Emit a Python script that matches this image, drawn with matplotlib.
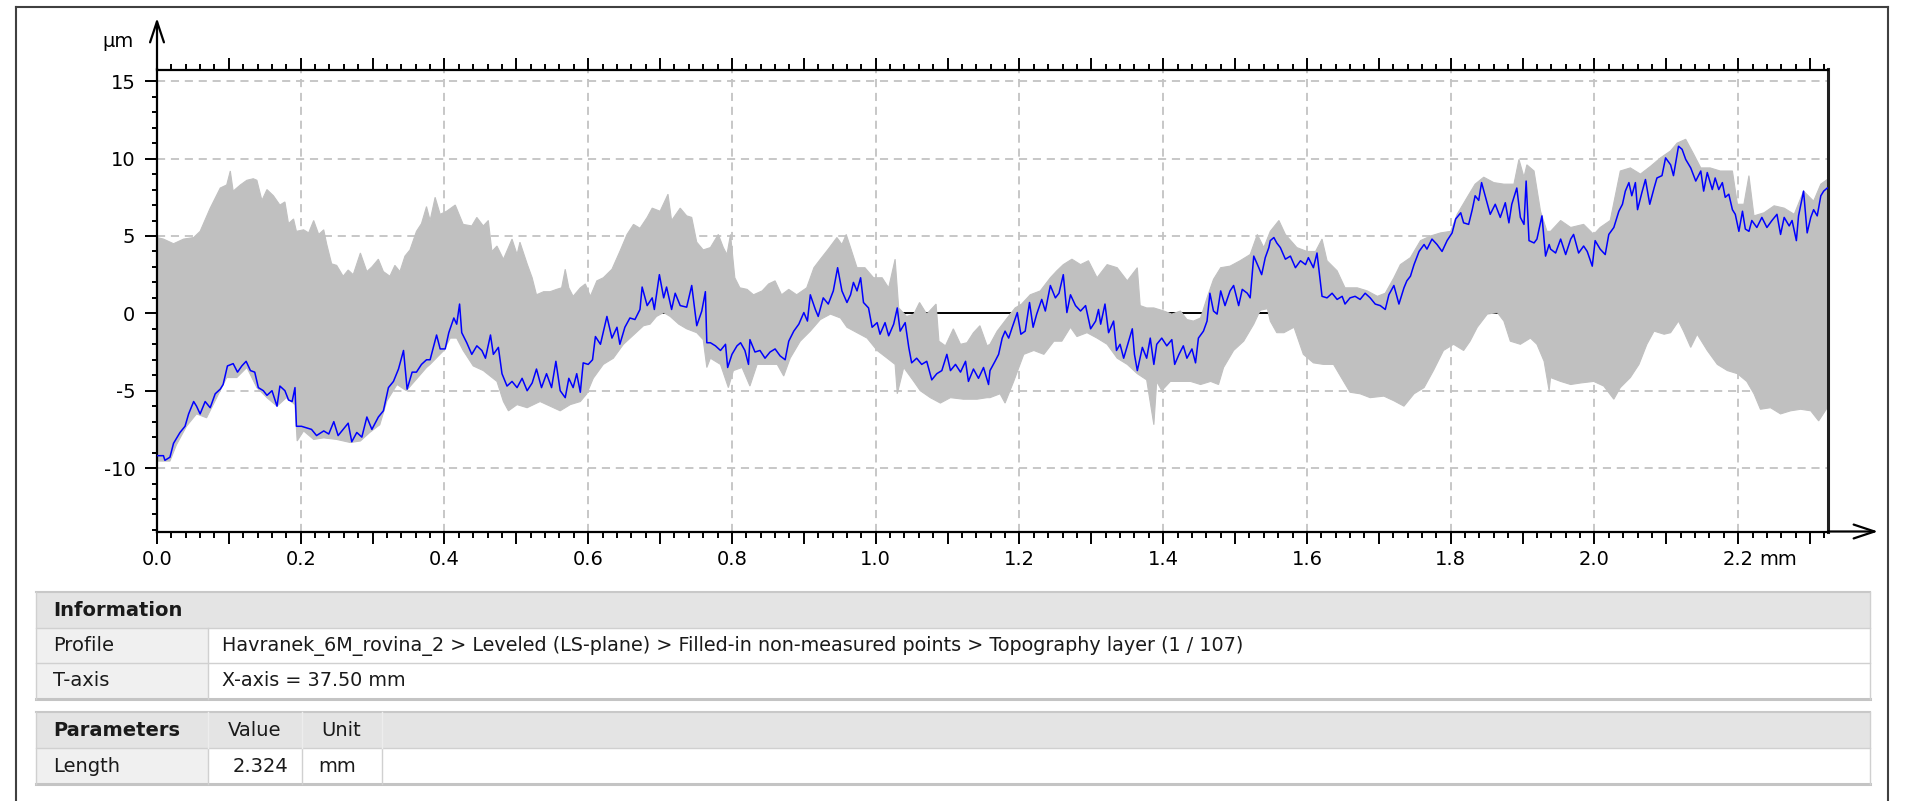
import numpy as np
import matplotlib
matplotlib.use("Agg")
import matplotlib.pyplot as plt
from matplotlib.patches import Rectangle
from matplotlib.lines import Line2D
from matplotlib.ticker import FixedLocator, FixedFormatter, MultipleLocator

# ---------------- data (x in mm, z in µm) ----------------
# highlighted profile (1 / 107) as (x, z)
blue_a = [(0.000, -9.2), (0.009, -9.2), (0.011, -9.5), (0.018, -9.3), (0.023, -8.4), (0.032, -7.7),
          (0.039, -7.3), (0.044, -6.5), (0.051, -5.7), (0.055, -6.0), (0.060, -6.5), (0.067, -5.7),
          (0.074, -6.1), (0.081, -5.2), (0.088, -4.9), (0.092, -4.6), (0.098, -3.4), (0.106, -3.25),
          (0.112, -3.8), (0.118, -3.4), (0.124, -3.1), (0.130, -3.7), (0.136, -3.8), (0.141, -4.8),
          (0.148, -5.0), (0.153, -5.3), (0.160, -5.0), (0.167, -6.0), (0.171, -4.7), (0.178, -5.0),
          (0.183, -5.6), (0.188, -5.7), (0.192, -4.8), (0.194, -7.3), (0.201, -7.3), (0.208, -7.4),
          (0.215, -7.5), (0.222, -7.9), (0.232, -7.6), (0.239, -7.8), (0.246, -7.0), (0.252, -7.9),
          (0.259, -7.5), (0.266, -7.1), (0.271, -8.3), (0.278, -7.7), (0.285, -8.0), (0.292, -6.7),
          (0.299, -7.5), (0.308, -6.7), (0.315, -6.3), (0.322, -4.8), (0.329, -4.4), (0.336, -3.6),
          (0.343, -2.4), (0.348, -4.9), (0.355, -3.8), (0.361, -3.8), (0.368, -3.3), (0.375, -3.0)]
blue_b = [(0.380, -3.0), (0.389, -1.4), (0.394, -2.3), (0.401, -2.3), (0.406, -1.25), (0.413, -0.3),
          (0.417, -0.7), (0.421, 0.6), (0.424, -1.25), (0.431, -1.9), (0.438, -2.65), (0.445, -2.1),
          (0.452, -2.4), (0.457, -2.9), (0.464, -1.4), (0.468, -2.65), (0.475, -2.2), (0.480, -3.9),
          (0.487, -4.7), (0.494, -4.4), (0.501, -4.8), (0.508, -4.2), (0.515, -5.0), (0.522, -4.5),
          (0.528, -3.6), (0.535, -4.8), (0.542, -3.9), (0.549, -4.8), (0.555, -3.1), (0.561, -5.0),
          (0.568, -5.45), (0.573, -4.2), (0.579, -4.8), (0.584, -3.9), (0.589, -5.1), (0.593, -3.2),
          (0.600, -3.3), (0.606, -3.0), (0.610, -1.5), (0.617, -2.0), (0.626, -0.2), (0.633, -1.6),
          (0.640, -0.9), (0.644, -2.0), (0.651, -0.9), (0.658, -0.3), (0.665, -0.4), (0.672, 0.25),
          (0.675, 1.7), (0.682, 0.5), (0.689, 1.0), (0.692, 0.25), (0.699, 2.5), (0.705, 1.0),
          (0.709, 1.7), (0.716, 0.25), (0.721, 1.3), (0.728, 0.5), (0.737, 0.4), (0.744, 1.8),
          (0.751, -0.8), (0.758, 0.15), (0.763, 1.4), (0.765, -1.9)]
blue_c = [(0.770, -1.9), (0.777, -2.1), (0.784, -2.4), (0.791, -2.0), (0.794, -3.5), (0.800, -2.65),
          (0.807, -2.1), (0.812, -1.9), (0.818, -2.4), (0.823, -3.3), (0.825, -1.7), (0.832, -2.5),
          (0.839, -2.4), (0.846, -2.9), (0.853, -2.5), (0.860, -2.3), (0.867, -2.75), (0.874, -3.0),
          (0.879, -1.8), (0.886, -1.15), (0.893, -0.7), (0.900, 0.05), (0.905, -0.5), (0.909, 1.2),
          (0.916, 0.25), (0.920, -0.2), (0.927, 1.0), (0.934, 0.6), (0.941, 1.45), (0.947, 2.95),
          (0.953, 1.45), (0.960, 0.7), (0.965, 1.2), (0.969, 2.0), (0.974, 1.45), (0.979, 2.3),
          (0.983, 0.7), (0.990, 0.35), (0.995, -0.9), (1.002, -0.6), (1.006, -1.35), (1.013, -0.6),
          (1.018, -1.45), (1.025, -0.7), (1.030, 0.35), (1.034, -1.15), (1.041, -0.6), (1.046, -2.2),
          (1.050, -3.2), (1.057, -2.9), (1.064, -3.3), (1.071, -3.1), (1.078, -4.3), (1.085, -3.9),
          (1.092, -3.7), (1.099, -2.65), (1.104, -3.7), (1.111, -3.3), (1.118, -3.8), (1.125, -3.1),
          (1.129, -4.4), (1.136, -3.6), (1.143, -4.2), (1.150, -3.5), (1.157, -4.6)]
blue_d = [(1.159, -3.7), (1.166, -3.1), (1.171, -2.65), (1.176, -1.6), (1.180, -1.15), (1.185, -1.6),
          (1.190, -0.9), (1.197, 0.05), (1.202, -1.35), (1.208, -1.15), (1.214, 0.7), (1.219, -0.9),
          (1.224, -0.05), (1.231, 0.9), (1.236, 0.15), (1.243, 1.8), (1.250, 1.0), (1.255, 1.3),
          (1.261, 2.5), (1.266, 0.05), (1.271, 1.2), (1.278, 0.5), (1.285, 0.15), (1.292, 0.5),
          (1.299, -1.0), (1.306, -0.5), (1.310, 0.25), (1.313, -0.7), (1.319, 0.6), (1.324, -1.25),
          (1.331, -0.5), (1.335, -2.4), (1.340, -2.0), (1.345, -2.9), (1.352, -1.8), (1.357, -1.0),
          (1.360, -2.65), (1.364, -3.7), (1.371, -2.2), (1.377, -2.9), (1.382, -1.6), (1.387, -3.3),
          (1.391, -2.0), (1.398, -1.6), (1.405, -2.1), (1.412, -1.7), (1.416, -3.3), (1.422, -2.65),
          (1.428, -2.1), (1.433, -2.9), (1.440, -2.3), (1.445, -3.2), (1.449, -1.6), (1.456, -1.15),
          (1.461, -0.5), (1.465, 1.3), (1.470, 0.15), (1.475, -0.05), (1.480, 1.45), (1.486, 0.5),
          (1.493, 1.45), (1.498, 1.8), (1.505, 0.5), (1.510, 1.55), (1.517, 1.3), (1.521, 1.0),
          (1.526, 3.7), (1.533, 2.95), (1.537, 2.5), (1.542, 3.6), (1.547, 4.25)]
blue_e = [(1.549, 4.7), (1.554, 4.9), (1.558, 4.55), (1.563, 4.25), (1.570, 3.5), (1.577, 3.7),
          (1.584, 2.95), (1.591, 3.4), (1.598, 3.15), (1.602, 3.6), (1.609, 2.95), (1.614, 3.9),
          (1.618, 2.3), (1.621, 1.1), (1.628, 1.0), (1.635, 1.3), (1.642, 0.9), (1.649, 1.1),
          (1.653, 0.6), (1.660, 1.0), (1.667, 1.1), (1.674, 0.9), (1.681, 1.3), (1.688, 1.0),
          (1.695, 0.6), (1.702, 0.5), (1.709, 0.25), (1.714, 1.2), (1.721, 1.8), (1.728, 0.6),
          (1.735, 1.65), (1.739, 2.1), (1.744, 2.4), (1.749, 3.15), (1.756, 4.0), (1.763, 4.45),
          (1.767, 4.15), (1.774, 4.8), (1.781, 4.45), (1.788, 4.0), (1.795, 4.7), (1.802, 5.2),
          (1.807, 6.1), (1.814, 6.5), (1.818, 5.85), (1.825, 5.75), (1.830, 6.7), (1.834, 7.6),
          (1.839, 7.3), (1.843, 8.45), (1.848, 7.6), (1.855, 6.4), (1.862, 7.05), (1.869, 6.2),
          (1.876, 7.15), (1.881, 5.85), (1.885, 7.05), (1.892, 8.1), (1.897, 6.2), (1.902, 5.75),
          (1.905, 8.55), (1.909, 4.7), (1.916, 4.55), (1.920, 4.8), (1.927, 6.3), (1.932, 3.7),
          (1.937, 4.45)]
blue_f = [(1.939, 4.15), (1.946, 3.9), (1.953, 4.8), (1.960, 3.8), (1.967, 4.8), (1.971, 5.1),
          (1.978, 3.9), (1.985, 4.35), (1.990, 4.0), (1.997, 3.05), (2.001, 4.7), (2.008, 4.15),
          (2.015, 3.8), (2.020, 5.1), (2.027, 5.55), (2.034, 6.6), (2.039, 7.05), (2.043, 7.9),
          (2.048, 8.45), (2.052, 7.6), (2.057, 8.45), (2.060, 6.7), (2.066, 7.8), (2.071, 8.65),
          (2.077, 7.05), (2.083, 8.1), (2.087, 8.75), (2.094, 8.9), (2.099, 10.05), (2.106, 9.6),
          (2.110, 8.9), (2.117, 10.8), (2.122, 10.6), (2.127, 9.95), (2.134, 9.4), (2.141, 8.55),
          (2.148, 9.2), (2.152, 7.9), (2.157, 9.1), (2.164, 8.0), (2.168, 8.75), (2.173, 8.0),
          (2.178, 8.45), (2.182, 7.5), (2.187, 7.7), (2.192, 6.7), (2.196, 6.4), (2.201, 5.3),
          (2.206, 6.6), (2.210, 5.45), (2.215, 5.3), (2.219, 6.0), (2.226, 5.55), (2.233, 6.2),
          (2.240, 5.55), (2.247, 6.0), (2.254, 6.4), (2.259, 5.1), (2.264, 6.2), (2.271, 5.65),
          (2.275, 6.0), (2.281, 4.7), (2.284, 6.3), (2.291, 7.9), (2.296, 5.2), (2.301, 6.2),
          (2.305, 6.7), (2.310, 6.3), (2.315, 7.6), (2.319, 7.9), (2.324, 8.1)]

# upper envelope of all 107 profiles (grey band)
upper_env = [(0.000, 4.9), (0.009, 4.8), (0.023, 4.5), (0.037, 4.8), (0.051, 4.9), (0.060, 5.3),
             (0.074, 6.8), (0.088, 8.1), (0.097, 8.3), (0.102, 9.2), (0.106, 7.9), (0.116, 8.3),
             (0.125, 8.6), (0.134, 8.7), (0.139, 8.6), (0.146, 7.3), (0.153, 8.0), (0.162, 7.6),
             (0.171, 7.0), (0.178, 7.2), (0.183, 5.8), (0.190, 6.1), (0.194, 5.3), (0.204, 5.4),
             (0.211, 5.2), (0.218, 6.0), (0.225, 5.1), (0.232, 5.4), (0.236, 4.5), (0.243, 3.2),
             (0.250, 3.1), (0.259, 2.4), (0.266, 2.8), (0.273, 2.5), (0.283, 3.9), (0.292, 2.7),
             (0.299, 3.0), (0.308, 3.5), (0.315, 2.7), (0.324, 2.4), (0.331, 3.1), (0.338, 2.7),
             (0.345, 3.7), (0.352, 4.1), (0.361, 5.3), (0.368, 5.8), (0.375, 6.9),
             (0.380, 6.0), (0.387, 7.5), (0.394, 6.4), (0.403, 6.6), (0.415, 7.0), (0.426, 5.75),
             (0.438, 5.65), (0.445, 6.2), (0.454, 5.65), (0.461, 6.0), (0.466, 4.0), (0.473, 4.35),
             (0.482, 3.5), (0.494, 4.8), (0.501, 3.8), (0.505, 4.6), (0.515, 3.2), (0.522, 2.3),
             (0.528, 1.2), (0.538, 1.4), (0.547, 1.4), (0.556, 1.55), (0.563, 1.65), (0.568, 2.85),
             (0.573, 1.65), (0.579, 1.1), (0.589, 1.65), (0.596, 1.9), (0.603, 1.1), (0.612, 2.1),
             (0.621, 2.3), (0.633, 2.85), (0.644, 4.0), (0.654, 5.1), (0.663, 5.75), (0.672, 5.5),
             (0.682, 6.2), (0.689, 6.8), (0.700, 6.6), (0.711, 7.7), (0.716, 6.0), (0.728, 6.8),
             (0.737, 6.3), (0.744, 6.2), (0.751, 4.6), (0.760, 4.1),
             (0.770, 4.25), (0.781, 5.1), (0.788, 4.25), (0.793, 3.8), (0.798, 5.1), (0.804, 2.3),
             (0.811, 1.65), (0.821, 1.55), (0.830, 1.2), (0.842, 1.45), (0.851, 1.9), (0.860, 2.1),
             (0.869, 1.2), (0.879, 1.55), (0.890, 1.2), (0.904, 1.65), (0.914, 2.95), (0.923, 3.5),
             (0.934, 4.15), (0.946, 4.9), (0.953, 4.45), (0.959, 5.1), (0.965, 4.25), (0.974, 2.95),
             (0.985, 2.95), (0.997, 2.3), (1.009, 2.3), (1.018, 1.65), (1.027, 3.5), (1.032, 0.35),
             (1.043, -0.2), (1.053, -0.05), (1.061, 0.7), (1.071, -0.05), (1.084, 0.6), (1.088, -1.8),
             (1.097, -2.1), (1.108, -1.0), (1.118, -2.0), (1.127, -1.9), (1.136, -1.25), (1.145, -0.8),
             (1.155, -2.1),
             (1.159, -2.0), (1.169, -1.15), (1.183, -0.3), (1.194, 0.35), (1.203, 0.6), (1.215, 1.2),
             (1.229, 1.45), (1.243, 2.3), (1.252, 2.75), (1.261, 3.15), (1.273, 3.5), (1.285, 3.15),
             (1.296, 3.4), (1.308, 2.3), (1.322, 3.15), (1.336, 2.95), (1.350, 2.1), (1.364, 2.95),
             (1.368, 0.5), (1.377, 0.35), (1.387, 0.35), (1.401, 0.15), (1.412, -0.05), (1.424, 0.15),
             (1.433, -0.4), (1.442, -0.5), (1.452, -0.3), (1.461, 1.0), (1.470, 2.2), (1.480, 2.95),
             (1.493, 3.05), (1.507, 3.4), (1.521, 3.8), (1.531, 5.1), (1.540, 4.25),
             (1.549, 5.3), (1.561, 6.0), (1.570, 5.1), (1.586, 4.25), (1.600, 4.0), (1.612, 4.0),
             (1.621, 4.8), (1.628, 3.4), (1.642, 2.75), (1.653, 1.65), (1.670, 1.65), (1.684, 1.45),
             (1.698, 1.1), (1.709, 1.3), (1.721, 2.3), (1.730, 3.15), (1.744, 3.6), (1.758, 4.7),
             (1.772, 5.0), (1.786, 5.2), (1.800, 5.3), (1.809, 6.4), (1.823, 7.5), (1.834, 8.35),
             (1.846, 8.8), (1.860, 8.45), (1.874, 8.35), (1.888, 8.35), (1.895, 9.95), (1.902, 8.8),
             (1.906, 9.6), (1.916, 9.2), (1.925, 6.6), (1.934, 5.3),
             (1.939, 5.3), (1.953, 6.0), (1.967, 5.55), (1.985, 5.75), (1.999, 5.1), (2.008, 5.55),
             (2.022, 6.0), (2.036, 9.2), (2.050, 9.4), (2.064, 9.0), (2.078, 9.5), (2.092, 10.05),
             (2.106, 10.5), (2.115, 11.0), (2.127, 11.25), (2.138, 10.3), (2.148, 9.4), (2.161, 9.4),
             (2.175, 9.2), (2.192, 9.2), (2.199, 7.05), (2.208, 7.05), (2.215, 8.9), (2.222, 6.3),
             (2.236, 6.5), (2.250, 6.95), (2.264, 6.8), (2.278, 6.4), (2.291, 7.9), (2.305, 7.25),
             (2.315, 8.35), (2.324, 8.65)]

# lower envelope of all 107 profiles (grey band)
lower_env = [(0.000, -9.55), (0.018, -9.55), (0.027, -8.5), (0.041, -7.3), (0.055, -6.5), (0.069, -6.75),
             (0.083, -5.45), (0.097, -4.15), (0.111, -4.15), (0.125, -3.5), (0.139, -4.8), (0.153, -5.45),
             (0.167, -6.0), (0.180, -5.45), (0.192, -5.9), (0.195, -8.25), (0.204, -7.6), (0.218, -8.15),
             (0.232, -8.05), (0.250, -8.15), (0.269, -8.35), (0.283, -8.25), (0.296, -7.7), (0.310, -7.2),
             (0.320, -5.65), (0.334, -4.6), (0.347, -5.0), (0.361, -4.25), (0.375, -3.5),
             (0.380, -3.3), (0.399, -2.4), (0.408, -1.6), (0.417, -1.6), (0.426, -2.4), (0.440, -3.4),
             (0.454, -3.7), (0.473, -4.4), (0.482, -5.7), (0.489, -6.3), (0.501, -5.9), (0.515, -6.1),
             (0.533, -5.7), (0.547, -6.0), (0.561, -6.3), (0.575, -5.9), (0.589, -5.7), (0.598, -5.2),
             (0.607, -4.2), (0.621, -3.3), (0.635, -2.9), (0.649, -2.0), (0.663, -1.4), (0.677, -0.8),
             (0.686, -0.7), (0.695, -0.2), (0.705, 0.05), (0.714, -0.2), (0.726, -0.7), (0.737, -1.0),
             (0.751, -1.25), (0.760, -1.7), (0.765, -3.5),
             (0.770, -2.9), (0.784, -3.3), (0.795, -4.8), (0.802, -3.7), (0.814, -3.5), (0.825, -4.7),
             (0.835, -3.3), (0.849, -3.3), (0.863, -3.3), (0.872, -4.05), (0.881, -2.9), (0.895, -1.8),
             (0.909, -1.15), (0.923, -0.4), (0.937, -0.05), (0.951, -0.3), (0.960, -0.9), (0.974, -1.25),
             (0.988, -1.6), (1.002, -2.4), (1.016, -2.9), (1.027, -3.3), (1.030, -5.2), (1.039, -3.5),
             (1.053, -4.4), (1.062, -5.0), (1.076, -5.45), (1.090, -5.8), (1.104, -5.45), (1.122, -5.55),
             (1.141, -5.55), (1.155, -5.45),
             (1.159, -5.45), (1.173, -5.2), (1.180, -5.8), (1.192, -4.4), (1.206, -2.65), (1.220, -2.4),
             (1.234, -2.65), (1.248, -1.8), (1.259, -1.8), (1.271, -0.9), (1.280, -1.5), (1.294, -1.25),
             (1.308, -1.6), (1.322, -2.0), (1.336, -2.9), (1.350, -3.3), (1.364, -3.9), (1.377, -4.3),
             (1.387, -7.2), (1.391, -4.4), (1.398, -5.0), (1.410, -4.4), (1.424, -4.4), (1.438, -4.4),
             (1.452, -4.6), (1.466, -4.4), (1.477, -4.6), (1.484, -3.5), (1.498, -2.4), (1.512, -1.8),
             (1.526, -0.7), (1.535, 0.2), (1.545, 0.3),
             (1.549, -0.5), (1.558, -1.25), (1.568, -1.25), (1.582, -0.9), (1.595, -2.65), (1.609, -3.2),
             (1.623, -3.3), (1.637, -3.3), (1.651, -4.4), (1.660, -5.1), (1.674, -5.2), (1.688, -5.45),
             (1.707, -5.35), (1.721, -5.65), (1.735, -6.0), (1.749, -5.2), (1.763, -4.8), (1.776, -3.7),
             (1.790, -2.4), (1.804, -2.0), (1.818, -2.4), (1.827, -1.8), (1.837, -0.9), (1.851, -0.05),
             (1.865, 0.05), (1.874, -0.5), (1.883, -1.8), (1.897, -2.0), (1.911, -1.6), (1.920, -2.0),
             (1.930, -3.1), (1.937, -5.0),
             (1.939, -4.15), (1.953, -4.4), (1.967, -4.6), (1.981, -4.5), (1.999, -4.4), (2.013, -4.7),
             (2.027, -5.55), (2.036, -4.8), (2.050, -4.15), (2.062, -3.3), (2.073, -2.0), (2.083, -1.15),
             (2.097, -1.35), (2.106, -1.25), (2.117, -0.5), (2.124, -1.15), (2.134, -2.2), (2.143, -1.35),
             (2.157, -2.4), (2.171, -3.3), (2.185, -3.7), (2.199, -3.9), (2.212, -4.4), (2.222, -5.2),
             (2.231, -6.2), (2.245, -6.1), (2.259, -6.5), (2.273, -6.3), (2.287, -6.2), (2.301, -6.3),
             (2.312, -6.95), (2.324, -6.1)]

x_major_ticks = [0.0, 0.1, 0.2, 0.3, 0.4, 0.5, 0.6, 0.7, 0.8, 0.9, 1.0, 1.1, 1.2,
                 1.3, 1.4, 1.5, 1.6, 1.7, 1.8, 1.9, 2.0, 2.1, 2.2, 2.3]
x_tick_labels = ["0.0", "", "0.2", "", "0.4", "", "0.6", "", "0.8", "", "1.0", "", "1.2",
                 "", "1.4", "", "1.6", "", "1.8", "", "2.0", "", "2.2", ""]
x_grid = [0.2, 0.4, 0.6, 0.8, 1.0, 1.2, 1.4, 1.6, 1.8, 2.0, 2.2]
y_major_ticks = [-10, -5, 0, 5, 10, 15]
y_tick_labels = ["-10", "-5", "0", "5", "10", "15"]
y_grid = [-10, -5, 5, 10, 15]
x_unit = "mm"
y_unit = "µm"

info_title = "Information"
info_labels = ["Profile", "T-axis"]
info_values = ["Havranek_6M_rovina_2 > Leveled (LS-plane) > Filled-in non-measured points > Topography layer (1 / 107)",
               "X-axis = 37.50 mm"]
param_headers = ["Parameters", "Value", "Unit"]
param_row = ["Length", "2.324", "mm"]

# ---------------- figure ----------------
W, H = 1906, 801
FS = 14
plt.rcParams["font.family"] = ["DejaVu Sans"]
fig = plt.figure(figsize=(W / 100, H / 100), dpi=100)
fig.patch.set_facecolor("white")

AX_L, AX_R, AX_T, AX_B = 157, 1828, 69.5, 531.5
ax = fig.add_axes([AX_L / W, 1 - AX_B / H, (AX_R - AX_L) / W, (AX_B - AX_T) / H])
ax.set_xlim(0, 2.325)
ax.set_ylim(-14.1, 15.76)

GRID_C = "#c3c3c3"
for gx in x_grid:
    ax.axvline(gx, color=GRID_C, lw=1.3, ls=(0, (4.5, 3.2)), zorder=0.5)
for gy in y_grid:
    ax.axhline(gy, color=GRID_C, lw=1.3, ls=(0, (4.5, 3.2)), zorder=0.5)
ax.axhline(0, color="black", lw=1.4, zorder=1)

ux = np.array([p[0] for p in upper_env]); uy = np.array([p[1] for p in upper_env])
lx = np.array([p[0] for p in lower_env]); ly = np.array([p[1] for p in lower_env])
ax.fill(np.r_[ux, lx[::-1]], np.r_[uy, ly[::-1]], facecolor="#c0c0c0", edgecolor="#c0c0c0",
        lw=0.8, zorder=2)

blue = blue_a + blue_b + blue_c + blue_d + blue_e + blue_f
bx = [p[0] for p in blue]; by = [p[1] for p in blue]
ax.plot(bx, by, color="#0000ff", lw=1.1, zorder=3)

for s in ["left", "bottom", "top"]:
    ax.spines[s].set_linewidth(1.6)
    ax.spines[s].set_color("black")
ax.spines["right"].set_linewidth(2.2)
ax.spines["right"].set_color("#202020")

ax.xaxis.set_major_locator(FixedLocator(x_major_ticks))
ax.xaxis.set_major_formatter(FixedFormatter(x_tick_labels))
ax.xaxis.set_minor_locator(MultipleLocator(0.02))
ax.yaxis.set_major_locator(FixedLocator(y_major_ticks))
ax.yaxis.set_major_formatter(FixedFormatter(y_tick_labels))
ax.yaxis.set_minor_locator(MultipleLocator(1))

ax.tick_params(axis="x", which="both", direction="out", top=True, bottom=True,
               labeltop=False, width=1.4, color="black")
ax.tick_params(axis="x", which="major", length=8.5, labelsize=FS, pad=4.5)
ax.tick_params(axis="x", which="minor", length=4.5)
ax.tick_params(axis="y", which="both", direction="out", left=True, right=False, width=1.4, color="black")
ax.tick_params(axis="y", which="major", length=8.5, labelsize=FS, pad=7)
ax.tick_params(axis="y", which="minor", length=3.5)

ax.annotate(x_unit, xy=(2.2, 0), xycoords=("data", "axes fraction"), xytext=(15.5, -13),
            textcoords="offset points", ha="left", va="top", fontsize=FS)
fig.text(118 / W, 1 - 47 / H, y_unit, ha="center", va="baseline", fontsize=FS)

arrow_kw = dict(arrowstyle="->,head_length=1.5,head_width=0.5", lw=1.6, color="black",
                shrinkA=0, shrinkB=0, mutation_scale=10)
ax.annotate("", xy=(AX_L, H - 18), xytext=(AX_L, H - AX_T), xycoords="figure pixels",
            textcoords="figure pixels", arrowprops=arrow_kw, annotation_clip=False)
ax.annotate("", xy=(1878, H - AX_B), xytext=(AX_R, H - AX_B), xycoords="figure pixels",
            textcoords="figure pixels", arrowprops=arrow_kw, annotation_clip=False)

# ---------------- outer frame & tables ----------------
def rect(x0, y0, x1, y1, color):
    fig.add_artist(Rectangle((x0 / W, 1 - y1 / H), (x1 - x0) / W, (y1 - y0) / H,
                             transform=fig.transFigure, facecolor=color, edgecolor="none"))

def hline(y, x0, x1, color, lw):
    fig.add_artist(Line2D([x0 / W, x1 / W], [1 - y / H, 1 - y / H], transform=fig.transFigure,
                          color=color, lw=lw))

def vline(x, y0, y1, color, lw):
    fig.add_artist(Line2D([x / W, x / W], [1 - y0 / H, 1 - y1 / H], transform=fig.transFigure,
                          color=color, lw=lw))

def txt(x, y, s, bold=False, size=FS):
    fig.text(x / W, 1 - y / H, s, ha="left", va="center", fontsize=size,
             fontweight="bold" if bold else "normal", color="#1a1a1a")

FRAME = "#404040"
hline(7, 16, 1888, FRAME, 1.5)
vline(16, 7, 801, FRAME, 1.5)
vline(1888, 7, 801, FRAME, 1.5)

TL, TR, C1 = 36, 1870, 208
HEAD, LAB, LINE = "#e4e4e4", "#f0f0f0", "#d0d0d0"

# information table
rows_y = [592, 628, 663, 699]
rect(TL, rows_y[0], TR, rows_y[1], HEAD)
for i in range(2):
    rect(TL, rows_y[i + 1], C1, rows_y[i + 2], LAB)
    rect(C1, rows_y[i + 1], TR, rows_y[i + 2], "white")
hline(rows_y[0], TL, TR, "#c8c8c8", 1.5)
for yy in rows_y[1:3]:
    hline(yy, TL, TR, LINE, 1.0)
hline(rows_y[3], TL, TR, "#c4c4c4", 2.2)
vline(TL, rows_y[0], rows_y[3], LINE, 1.0)
vline(TR, rows_y[0], rows_y[3], LINE, 1.0)
vline(C1, rows_y[1], rows_y[3], LINE, 1.0)
txt(53, (rows_y[0] + rows_y[1]) / 2, info_title, bold=True)
for i in range(2):
    yc = (rows_y[i + 1] + rows_y[i + 2]) / 2
    txt(53, yc, info_labels[i])
    txt(222, yc, info_values[i], size=13.8)

# parameters table
prow = [712, 748, 784]
pcols = [TL, C1, 302, 382]
rect(TL, prow[0], TR, prow[1], HEAD)
rect(TL, prow[1], C1, prow[2], LAB)
rect(C1, prow[1], TR, prow[2], "white")
hline(prow[0], TL, TR, "#c8c8c8", 1.5)
hline(prow[1], TL, TR, LINE, 1.0)
hline(prow[2], TL, TR, "#c4c4c4", 2.2)
vline(TL, prow[0], prow[2], LINE, 1.0)
vline(TR, prow[0], prow[2], LINE, 1.0)
for cx in pcols[1:]:
    vline(cx, prow[1], prow[2], LINE, 1.0)
    vline(cx, prow[0], prow[1], "#ededed", 1.0)
yc_h = (prow[0] + prow[1]) / 2
yc_r = (prow[1] + prow[2]) / 2
txt(53, yc_h, param_headers[0], bold=True)
txt(228, yc_h, param_headers[1])
txt(321, yc_h, param_headers[2])
txt(53, yc_r, param_row[0])
txt(233, yc_r, param_row[1])
txt(318, yc_r, param_row[2])

fig.savefig("out.png", dpi=100)
